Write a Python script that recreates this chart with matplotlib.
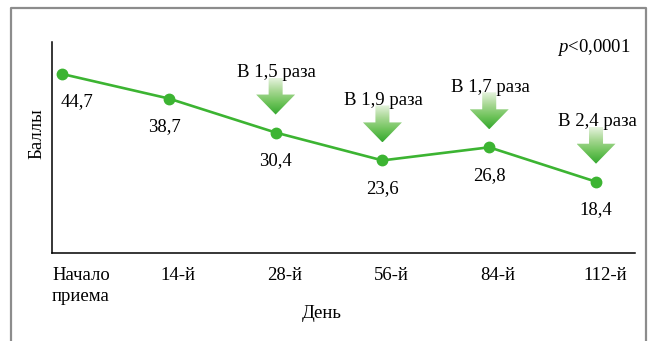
import numpy as np
import matplotlib
matplotlib.use('Agg')
import matplotlib.pyplot as plt
from matplotlib.patches import Polygon
from matplotlib.colors import LinearSegmentedColormap
import matplotlib.transforms as mtransforms

plt.rcParams['font.family'] = ['Liberation Serif', 'DejaVu Serif']
plt.rcParams['mathtext.fontset'] = 'custom'
plt.rcParams['mathtext.it'] = 'Liberation Serif:italic'
plt.rcParams['mathtext.rm'] = 'Liberation Serif'

days = ['Начало\nприема', '14-й', '28-й', '56-й', '84-й', '112-й']
scores = [44.7, 38.7, 30.4, 23.6, 26.8, 18.4]
score_labels = ['44,7', '38,7', '30,4', '23,6', '26,8', '18,4']
ratio_idx = [2, 3, 4, 5]
ratio_labels = ['В 1,5 раза', 'В 1,9 раза', 'В 1,7 раза', 'В 2,4 раза']

green = '#3cb432'
fs = 13.5

W, H = 650, 341
fig = plt.figure(figsize=(W / 100, H / 100), dpi=100)
ax = fig.add_axes([52 / W, 1 - 253 / H, (635 - 52) / W, (253 - 42) / H])

x = np.arange(len(days))
ax.set_xlim(-0.094, 5.365)
ax.set_ylim(1.0, 52.5)

ax.plot(x, scores, color=green, lw=1.9, marker='o', ms=7.5, zorder=3)

for xi, yi, lab in zip(x, scores, score_labels):
    dx = 15 if xi == 0 else (-4 if xi == 1 else 0)
    ax.annotate(lab, (xi, yi), xytext=(dx, -28), textcoords='offset pixels',
                ha='center', va='center', fontsize=fs)

# pixel -> data scale
px_x = (5.365 + 0.094) / (635 - 52)
px_y = (52.5 - 1.0) / (253 - 42)

cmap = LinearSegmentedColormap.from_list('arr', ['#e6f3de', '#a9d895', '#6ec35a', '#35a82f'])
grad = np.linspace(0, 1, 100).reshape(-1, 1)

for i, lab in zip(ratio_idx, ratio_labels):
    xc = x[i]
    tip = scores[i] + 18 * px_y
    base = tip + 20 * px_y
    top = tip + 37 * px_y
    sw = 7 * px_x
    hw = 19.5 * px_x
    pts = [(xc - sw, top), (xc + sw, top), (xc + sw, base), (xc + hw, base),
           (xc, tip), (xc - hw, base), (xc - sw, base)]
    poly = Polygon(pts, closed=True, facecolor='none', edgecolor='none')
    ax.add_patch(poly)
    im = ax.imshow(grad, cmap=cmap, aspect='auto', origin='upper',
                   extent=[xc - hw, xc + hw, tip, top], zorder=2)
    im.set_clip_path(poly)
    ax.text(xc + 1 * px_x, top + 5 * px_y, lab, ha='center', va='center', fontsize=fs, zorder=4)

ax.set_xticks(x)
ax.set_xticklabels(days, fontsize=fs, linespacing=1.3)
ax.tick_params(length=0, pad=10)
ax.set_yticks([])
for k, t in enumerate(ax.get_xticklabels()):
    off = 19 if k == 0 else 9
    t.set_transform(t.get_transform() + mtransforms.ScaledTranslation(off / 100, 0, fig.dpi_scale_trans))

ax.spines['top'].set_visible(False)
ax.spines['right'].set_visible(False)
ax.spines['left'].set_linewidth(1.1)
ax.spines['bottom'].set_linewidth(1.1)

fig.text(322 / W, 1 - 313 / H, 'День', ha='center', va='center', fontsize=fs)
fig.text(37 / W, 1 - 134 / H, 'Баллы', ha='center', va='center', rotation=90, fontsize=fs)
fig.text(631 / W, 1 - 48 / H, r'$p$<0,0001', ha='right', va='center', fontsize=fs)

# outer gray frame, open at bottom
frame_x = [11 / W, 11 / W, 646 / W, 646 / W]
frame_y = [0, 1 - 8 / H, 1 - 8 / H, 0]
fig.add_artist(plt.Line2D(frame_x, frame_y, color='#8c8c8c', lw=1.6, transform=fig.transFigure))

fig.savefig('out.png', dpi=100)
